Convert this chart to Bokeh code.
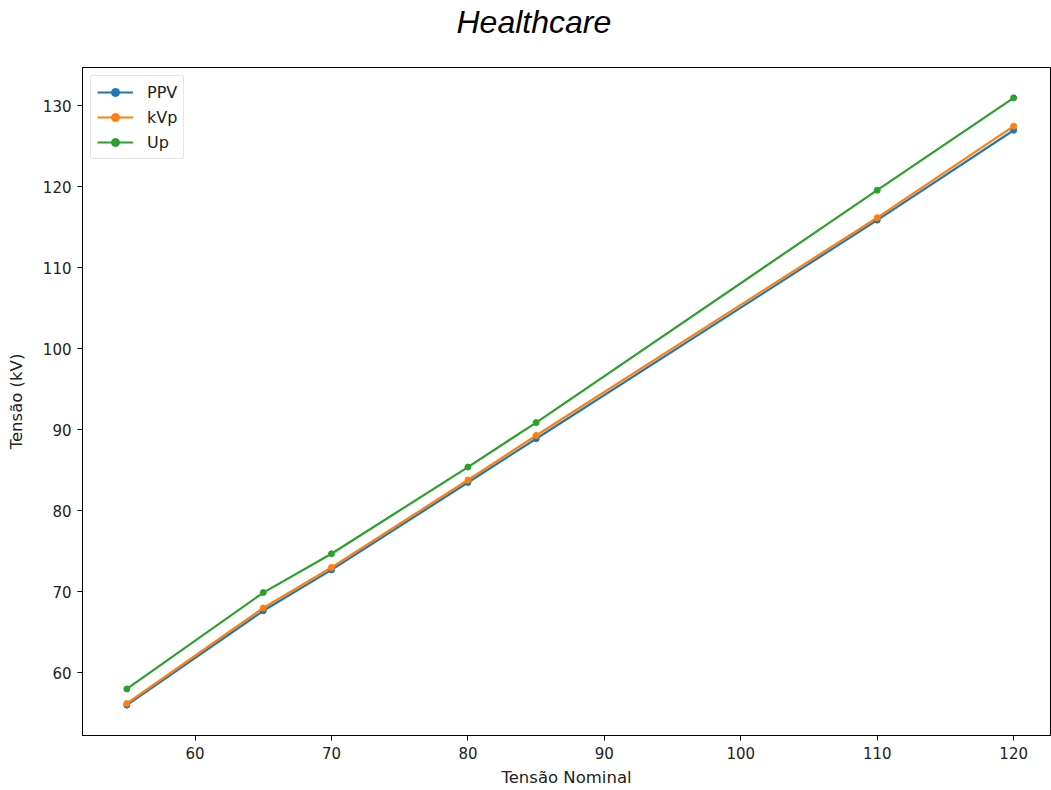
from bokeh.plotting import figure
from bokeh.layouts import column
from bokeh.models import Range1d, FixedTicker, Legend, LegendItem
from bokeh.embed import file_html
from bokeh.resources import INLINE

nominal = [55, 65, 70, 80, 85, 110, 120]
ppv = [56.0, 67.65, 72.7, 83.5, 88.9, 115.9, 127.0]
kvp = [56.2, 68.0, 73.0, 83.8, 89.3, 116.2, 127.5]
up = [58.0, 69.9, 74.7, 85.4, 90.9, 119.6, 131.0]
x_ticks = [60, 70, 80, 90, 100, 110, 120]
y_ticks = [60, 70, 80, 90, 100, 110, 120, 130]
title_text = "Healthcare"

series = [("PPV", ppv, "#1f77b4"), ("kVp", kvp, "#ff7f0e"), ("Up", up, "#2ca02c")]

# title strip (figure-level title, centred like a suptitle)
t = figure(width=1051, height=60, output_backend="svg", toolbar_location=None,
           x_axis_location=None, y_axis_location=None,
           min_border_left=0, min_border_right=0, min_border_top=0, min_border_bottom=0)
t.outline_line_color = None
t.grid.visible = False
t.border_fill_color = "white"
t.background_fill_color = "white"
t.title.text = title_text
t.title.text_font = "Liberation Sans"
t.title.text_font_style = "italic"
t.title.text_font_size = "32px"
t.title.text_color = "black"
t.title.align = "left"
t.title.offset = 374
t.title.standoff = 2

p = figure(width=1051, height=730, output_backend="svg", toolbar_location=None,
           x_range=Range1d(51.75, 122.7), y_range=Range1d(52.25, 134.75),
           min_border_left=82, min_border_right=1, min_border_top=7, min_border_bottom=55)

p.xgrid.visible = False
p.ygrid.visible = False
p.outline_line_color = "black"
p.outline_line_width = 1
p.background_fill_color = "white"
p.border_fill_color = "white"

for ax in (p.xaxis[0], p.yaxis[0]):
    ax.axis_line_color = "black"
    ax.major_tick_line_color = "black"
    ax.major_tick_out = 5
    ax.major_tick_in = 0
    ax.minor_tick_line_color = None
    ax.major_label_text_font = "DejaVu Sans"
    ax.major_label_text_font_size = "15px"
    ax.major_label_text_color = "#222222"
    ax.axis_label_text_font = "DejaVu Sans"
    ax.axis_label_text_font_size = "16.5px"
    ax.axis_label_text_font_style = "normal"
    ax.axis_label_text_color = "#222222"

p.xaxis.ticker = FixedTicker(ticks=x_ticks)
p.yaxis.ticker = FixedTicker(ticks=y_ticks)
p.xaxis.axis_label = "Tensão Nominal"
p.yaxis.axis_label = "Tensão (kV)"
p.xaxis.major_label_standoff = 6
p.yaxis.major_label_standoff = 6
p.xaxis.axis_label_standoff = 6
p.yaxis.axis_label_standoff = 14

items = []
for name, vals, col in series:
    l = p.line(nominal, vals, line_color=col, line_width=2.2)
    s = p.scatter(nominal, vals, size=6, fill_color=col, line_color=col)
    items.append(LegendItem(label=name, renderers=[l, s]))

legend = Legend(items=items, location="top_left")
legend.label_text_font = "DejaVu Sans"
legend.label_text_font_size = "16px"
legend.label_text_color = "#222222"
legend.border_line_color = "#cccccc"
legend.border_line_width = 1
legend.border_radius = 3
legend.background_fill_alpha = 0.8
legend.glyph_width = 36
legend.glyph_height = 20
legend.spacing = 5
legend.padding = 6
legend.margin = 8
legend.label_standoff = 14
p.add_layout(legend)

layout = column(t, p, spacing=0)
open("out.html", "w").write(file_html(layout, INLINE))
